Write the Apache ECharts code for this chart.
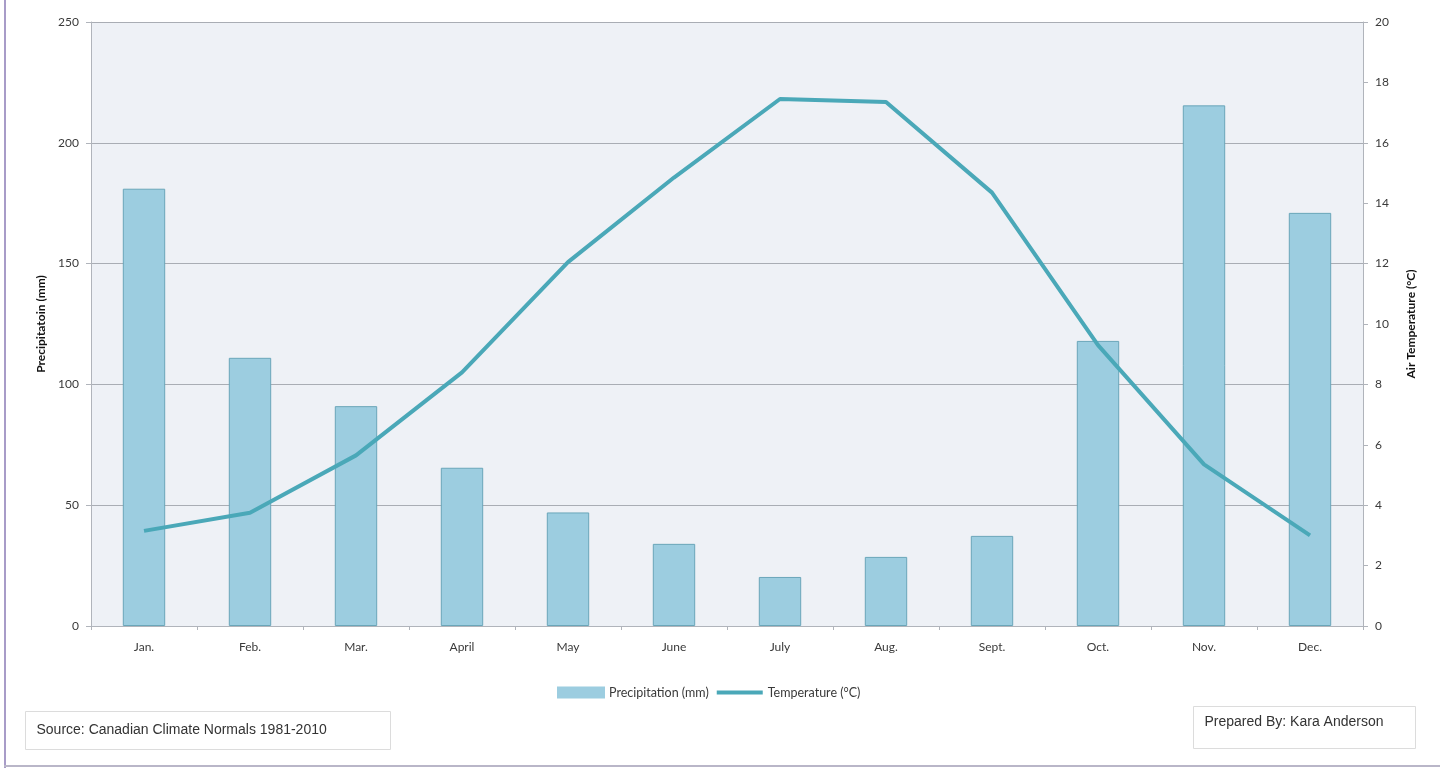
<!DOCTYPE html>
<html>
<head>
<meta charset="utf-8">
<script src="https://cdn.jsdelivr.net/npm/echarts@6/dist/echarts.min.js"></script>
<style>
  html, body { margin: 0; padding: 0; background: #ffffff; }
  #chart { width: 1440px; height: 770px; }
</style>
</head>
<body>
<div id="chart"></div>
<script>
// 月份
const months = ['Jan.', 'Feb.', 'Mar.', 'April', 'May', 'June', 'July', 'Aug.', 'Sept.', 'Oct.', 'Nov.', 'Dec.'];
// 降水 (mm)
const precipitation = [181, 111, 91, 65.5, 47, 34, 20.3, 28.6, 37.3, 118, 215.5, 171];
// 气温 (°C)
const temperature = [3.15, 3.75, 5.65, 8.4, 12.05, 14.85, 17.45, 17.35, 14.35, 9.3, 5.35, 3.0];

const textColor = '#3a3a3a';
const labelFont = 'Lato, "Open Sans", sans-serif';

const myChart = echarts.init(document.getElementById('chart'));

const option = {
  backgroundColor: '#ffffff',
  animation: false,
  textStyle: { fontFamily: labelFont, color: textColor },
  grid: {
    left: 91,
    right: 77,
    top: 22,
    bottom: 144,
    show: true,
    backgroundColor: '#eef1f6',
    borderWidth: 0,
  },
  legend: {
    top: 681,
    left: 552,
    itemGap: 8,
    itemWidth: 46,
    itemHeight: 10,
    textStyle: { fontSize: 12.5, color: textColor, fontFamily: labelFont },
    data: [
      { name: 'Precipitation (mm)', icon: 'rect', itemStyle: { color: '#9ccde0', borderColor: '#9ccde0' } },
      // 图例里的粗线
      { name: 'Temperature (°C)', icon: 'path://M0,0 M0,3 L46,3 L46,7 L0,7 Z M46,10', itemStyle: { color: '#4aa8b8', borderWidth: 0 } },
    ],
  },
  xAxis: {
    type: 'category',
    data: months,
    boundaryGap: true,
    axisLine: { lineStyle: { color: '#b0b4bb', width: 1 } },
    axisTick: { show: true, length: 4, lineStyle: { color: '#b0b4bb' } },
    axisLabel: { color: textColor, fontSize: 12, margin: 15 },
  },
  yAxis: [
    {
      type: 'value',
      min: 0,
      max: 250,
      interval: 50,
      name: 'Precipitatoin (mm)',
      nameLocation: 'middle',
      nameGap: 43,
      nameRotate: 90,
      nameTextStyle: { fontSize: 12, fontWeight: 'bold', color: '#111' },
      axisLine: { show: true, lineStyle: { color: '#b0b4bb' } },
      axisTick: { show: true, length: 5, lineStyle: { color: '#b0b4bb' } },
      axisLabel: { color: textColor, fontSize: 12, margin: 12 },
      splitLine: { show: true, lineStyle: { color: '#a9adb4', width: 1 } },
    },
    {
      type: 'value',
      min: 0,
      max: 20,
      interval: 2,
      position: 'right',
      name: 'Air Temperature (°C)',
      nameLocation: 'middle',
      nameGap: 42,
      nameRotate: 90,
      nameTextStyle: { fontSize: 12, fontWeight: 'bold', color: '#111' },
      axisLine: { show: true, lineStyle: { color: '#b0b4bb' } },
      axisTick: { show: true, length: 5, lineStyle: { color: '#b0b4bb' } },
      axisLabel: { color: textColor, fontSize: 12, margin: 12 },
      splitLine: { show: false },
    },
  ],
  series: [
    {
      name: 'Precipitation (mm)',
      type: 'bar',
      data: precipitation,
      barWidth: '40%',
      itemStyle: { color: '#9ccde0', borderColor: '#6aa6b9', borderWidth: 1 },
    },
    {
      name: 'Temperature (°C)',
      type: 'line',
      yAxisIndex: 1,
      data: temperature,
      symbol: 'none',
      lineStyle: { color: '#4aa8b8', width: 4 },
      itemStyle: { color: '#4aa8b8' },
    },
  ],
  graphic: [
    // 外框
    { type: 'rect', shape: { x: 4, y: 0, width: 2, height: 768 }, style: { fill: '#a89cc8' }, silent: true },
    { type: 'rect', shape: { x: 4, y: 765, width: 1436, height: 2 }, style: { fill: '#b9b6c8' }, silent: true },
    // 数据来源
    {
      type: 'group', left: 25, top: 711,
      children: [
        { type: 'rect', shape: { x: 0, y: 0, width: 365, height: 38 }, style: { fill: '#ffffff', stroke: '#dcdcdc', lineWidth: 1 } },
        { type: 'text', x: 11, y: 19, style: { text: 'Source: Canadian Climate Normals 1981-2010', fill: '#333', fontSize: 14, fontFamily: '"Liberation Sans", Arial, sans-serif', verticalAlign: 'middle' } },
      ],
    },
    {
      type: 'group', left: 1193, top: 706,
      children: [
        { type: 'rect', shape: { x: 0, y: 0, width: 222, height: 42 }, style: { fill: '#ffffff', stroke: '#dcdcdc', lineWidth: 1 } },
        { type: 'text', x: 11, y: 16, style: { text: 'Prepared By: Kara Anderson', fill: '#333', fontSize: 14, fontFamily: '"Liberation Sans", Arial, sans-serif', verticalAlign: 'middle' } },
      ],
    },
  ],
};

myChart.setOption(option);
window.addEventListener('resize', () => myChart.resize());
</script>
</body>
</html>
